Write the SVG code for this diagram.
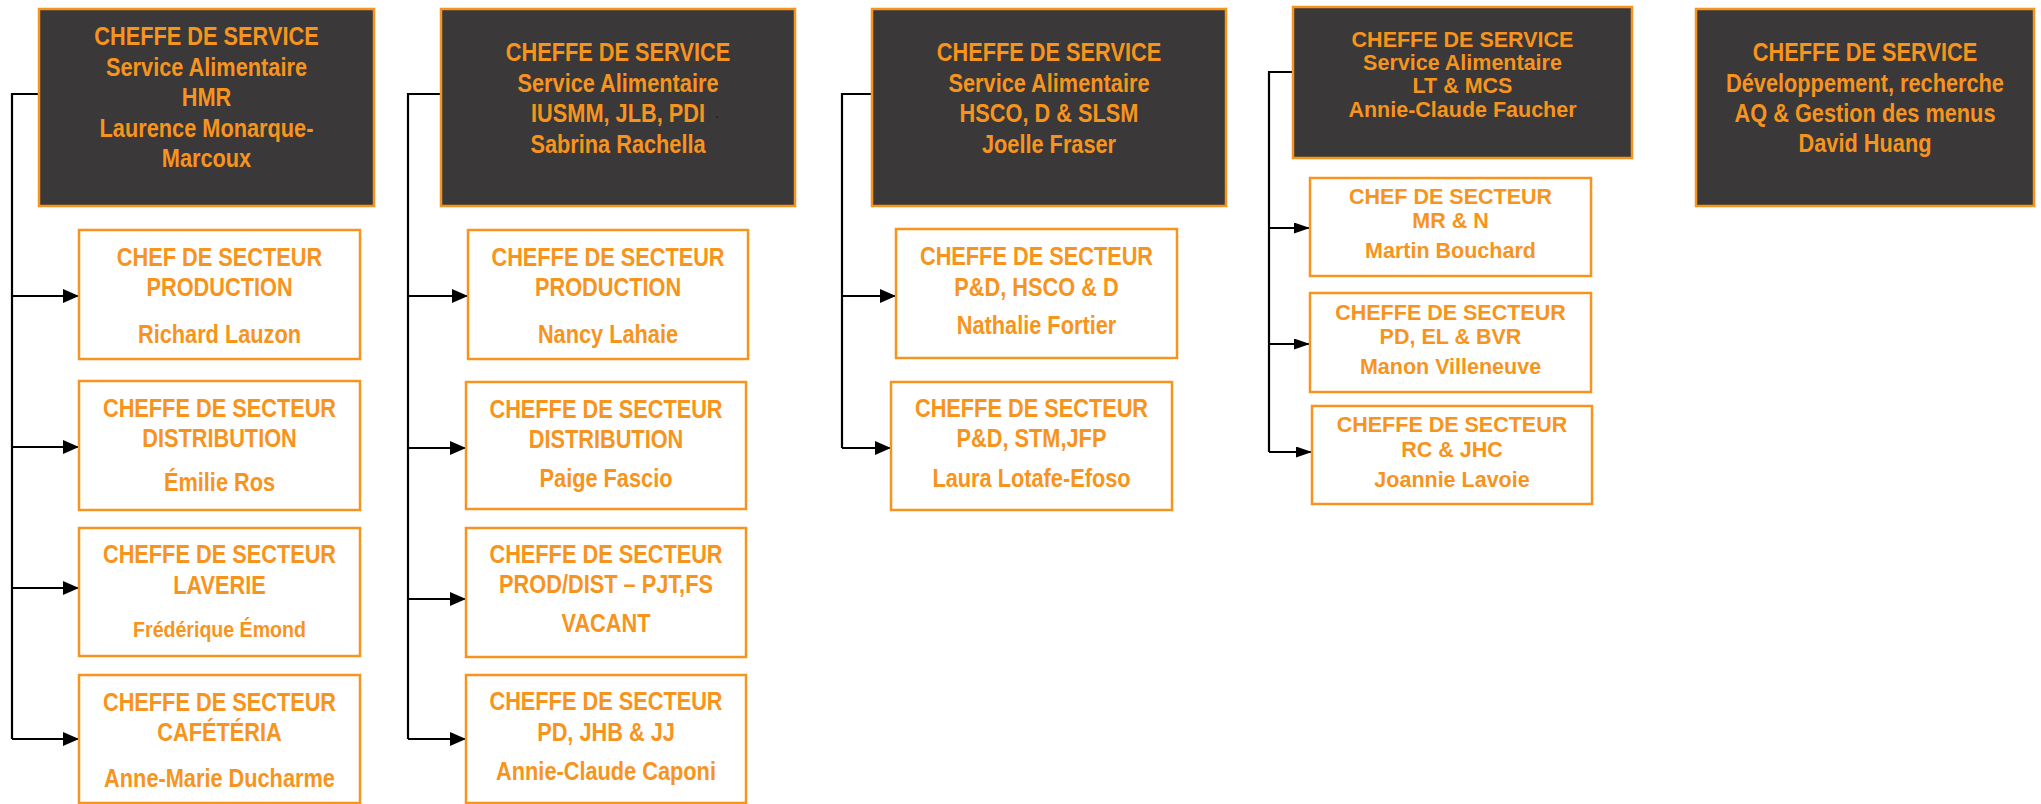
<svg xmlns="http://www.w3.org/2000/svg" width="2041" height="804" viewBox="0 0 2041 804">
<style>
.top{fill:#3a3839;stroke:#F7941D;stroke-width:2.5}
.sub{fill:#ffffff;stroke:#F7941D;stroke-width:2.5}
.n{font-family:"Liberation Sans",Arial,sans-serif;font-weight:bold;font-size:25px;fill:#F7941D;text-anchor:middle}
.s{font-size:22.5px}
.w{font-family:"Liberation Sans",Arial,sans-serif;font-weight:bold;font-size:21.5px;fill:#F7941D;text-anchor:middle}
.c{fill:none;stroke:#000;stroke-width:2.2}
.a{fill:none;stroke:#000;stroke-width:2.2;marker-end:url(#arr)}
.a2{fill:none;stroke:#000;stroke-width:2.2;marker-end:url(#arr2)}
</style>
<defs>
<marker id="arr" markerUnits="userSpaceOnUse" markerWidth="17" markerHeight="15" refX="16" refY="7" orient="auto"><path d="M0,0 L16,7 L0,14 z" fill="#000"/></marker>
<marker id="arr2" markerUnits="userSpaceOnUse" markerWidth="17" markerHeight="12" refX="16" refY="5.5" orient="auto"><path d="M0,0 L16,5.5 L0,11 z" fill="#000"/></marker>
</defs>
<rect width="2041" height="804" fill="#ffffff"/>

<g id="connectors">
<path class="c" d="M39,94 H12 V739"/>
<path class="a" d="M12,296 H79"/>
<path class="a" d="M12,447 H79"/>
<path class="a" d="M12,588 H79"/>
<path class="a" d="M12,739 H79"/>
<path class="c" d="M441,94 H408 V739"/>
<path class="a" d="M408,296 H468"/>
<path class="a" d="M408,448 H466"/>
<path class="a" d="M408,599 H466"/>
<path class="a" d="M408,739 H466"/>
<path class="c" d="M872,94 H842 V448"/>
<path class="a" d="M842,296 H896"/>
<path class="a" d="M842,448 H891"/>
<path class="c" d="M1293,72 H1269 V452"/>
<path class="a2" d="M1269,228 H1310"/>
<path class="a2" d="M1269,344 H1310"/>
<path class="a2" d="M1269,452 H1312"/>
</g>

<g id="svc1">
<rect class="top" x="39" y="9" width="335" height="197"/>
<g transform="translate(206.5,0) scale(0.87,1)">
<text class="n" y="45">CHEFFE DE SERVICE</text>
<text class="n" y="76">Service Alimentaire</text>
<text class="n" y="106">HMR</text>
<text class="n" y="137">Laurence Monarque-</text>
<text class="n" y="167">Marcoux</text>
</g>
</g>
<g id="c1s1">
<rect class="sub" x="79" y="230" width="281" height="129"/>
<g transform="translate(219.5,0) scale(0.87,1)">
<text class="n" y="266">CHEF DE SECTEUR</text>
<text class="n" y="296">PRODUCTION</text>
<text class="n" y="343">Richard Lauzon</text>
</g>
</g>
<g id="c1s2">
<rect class="sub" x="79" y="381" width="281" height="129"/>
<g transform="translate(219.5,0) scale(0.87,1)">
<text class="n" y="417">CHEFFE DE SECTEUR</text>
<text class="n" y="447">DISTRIBUTION</text>
<text class="n" y="491">Émilie Ros</text>
</g>
</g>
<g id="c1s3">
<rect class="sub" x="79" y="528" width="281" height="128"/>
<g transform="translate(219.5,0) scale(0.87,1)">
<text class="n" y="563">CHEFFE DE SECTEUR</text>
<text class="n" y="594">LAVERIE</text>
<text class="n s" y="637">Frédérique Émond</text>
</g>
</g>
<g id="c1s4">
<rect class="sub" x="79" y="675" width="281" height="128"/>
<g transform="translate(219.5,0) scale(0.87,1)">
<text class="n" y="711">CHEFFE DE SECTEUR</text>
<text class="n" y="741">CAFÉTÉRIA</text>
<text class="n" y="787">Anne-Marie Ducharme</text>
</g>
</g>

<g id="svc2">
<rect class="top" x="441" y="9" width="354" height="197"/>
<g transform="translate(618,0) scale(0.87,1)">
<text class="n" y="61">CHEFFE DE SERVICE</text>
<text class="n" y="92">Service Alimentaire</text>
<text class="n" y="122">IUSMM, JLB, PDI</text>
<text class="n" y="153">Sabrina Rachella</text>
</g>
<circle cx="717" cy="117" r="0.8" fill="#111"/>
</g>
<g id="c2s1">
<rect class="sub" x="468" y="230" width="280" height="129"/>
<g transform="translate(608,0) scale(0.87,1)">
<text class="n" y="266">CHEFFE DE SECTEUR</text>
<text class="n" y="296">PRODUCTION</text>
<text class="n" y="343">Nancy Lahaie</text>
</g>
</g>
<g id="c2s2">
<rect class="sub" x="466" y="382" width="280" height="127"/>
<g transform="translate(606,0) scale(0.87,1)">
<text class="n" y="418">CHEFFE DE SECTEUR</text>
<text class="n" y="448">DISTRIBUTION</text>
<text class="n" y="487">Paige Fascio</text>
</g>
</g>
<g id="c2s3">
<rect class="sub" x="466" y="528" width="280" height="129"/>
<g transform="translate(606,0) scale(0.87,1)">
<text class="n" y="563">CHEFFE DE SECTEUR</text>
<text class="n" y="593">PROD/DIST – PJT,FS</text>
<text class="n" y="632">VACANT</text>
</g>
</g>
<g id="c2s4">
<rect class="sub" x="466" y="675" width="280" height="128"/>
<g transform="translate(606,0) scale(0.87,1)">
<text class="n" y="710">CHEFFE DE SECTEUR</text>
<text class="n" y="741">PD, JHB &amp; JJ</text>
<text class="n" y="780">Annie-Claude Caponi</text>
</g>
</g>

<g id="svc3">
<rect class="top" x="872" y="9" width="354" height="197"/>
<g transform="translate(1049,0) scale(0.87,1)">
<text class="n" y="61">CHEFFE DE SERVICE</text>
<text class="n" y="92">Service Alimentaire</text>
<text class="n" y="122">HSCO, D &amp; SLSM</text>
<text class="n" y="153">Joelle Fraser</text>
</g>
</g>
<g id="c3s1">
<rect class="sub" x="896" y="229" width="281" height="129"/>
<g transform="translate(1036.5,0) scale(0.87,1)">
<text class="n" y="265">CHEFFE DE SECTEUR</text>
<text class="n" y="296">P&amp;D, HSCO &amp; D</text>
<text class="n" y="334">Nathalie Fortier</text>
</g>
</g>
<g id="c3s2">
<rect class="sub" x="891" y="382" width="281" height="128"/>
<g transform="translate(1031.5,0) scale(0.87,1)">
<text class="n" y="417">CHEFFE DE SECTEUR</text>
<text class="n" y="447">P&amp;D, STM,JFP</text>
<text class="n" y="487">Laura Lotafe-Efoso</text>
</g>
</g>

<g id="svc4">
<rect class="top" x="1293" y="7" width="339" height="151"/>
<text class="w" x="1462.5" y="47">CHEFFE DE SERVICE</text>
<text class="w" x="1462.5" y="70">Service Alimentaire</text>
<text class="w" x="1462.5" y="93">LT &amp; MCS</text>
<text class="w" x="1462.5" y="117">Annie-Claude Faucher</text>
</g>
<g id="c4s1">
<rect class="sub" x="1310" y="178" width="281" height="98"/>
<text class="w" x="1450.5" y="204">CHEF DE SECTEUR</text>
<text class="w" x="1450.5" y="228">MR &amp; N</text>
<text class="w" x="1450.5" y="258">Martin Bouchard</text>
</g>
<g id="c4s2">
<rect class="sub" x="1310" y="293" width="281" height="99"/>
<text class="w" x="1450.5" y="320">CHEFFE DE SECTEUR</text>
<text class="w" x="1450.5" y="344">PD, EL &amp; BVR</text>
<text class="w" x="1450.5" y="374">Manon Villeneuve</text>
</g>
<g id="c4s3">
<rect class="sub" x="1312" y="406" width="280" height="98"/>
<text class="w" x="1452" y="432">CHEFFE DE SECTEUR</text>
<text class="w" x="1452" y="457">RC &amp; JHC</text>
<text class="w" x="1452" y="487">Joannie Lavoie</text>
</g>

<g id="svc5">
<rect class="top" x="1696" y="9" width="338" height="197"/>
<g transform="translate(1865,0) scale(0.87,1)">
<text class="n" y="61">CHEFFE DE SERVICE</text>
<text class="n" y="92">Développement, recherche</text>
<text class="n" y="122">AQ &amp; Gestion des menus</text>
<text class="n" y="152">David Huang</text>
</g>
</g>
</svg>
